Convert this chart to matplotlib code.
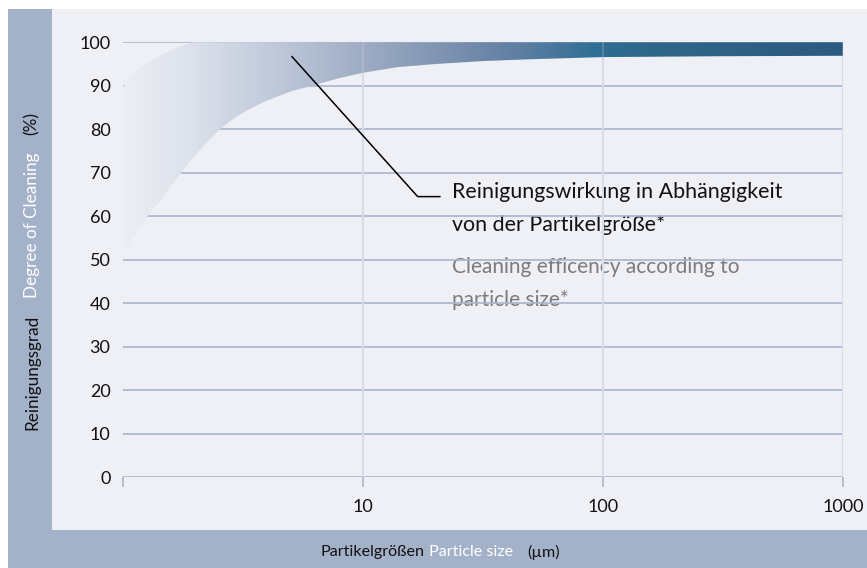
import numpy as np
import matplotlib
matplotlib.use("Agg")
import matplotlib.pyplot as plt
from matplotlib.colors import LinearSegmentedColormap
from matplotlib.patches import Rectangle, Polygon

plt.rcParams['font.family'] = ['Lato', 'DejaVu Sans']

# band edges (particle size in um -> degree of cleaning in %)
lower_x = [1.0, 1.10, 1.20, 1.32, 1.45, 1.58, 1.74, 1.91, 2.09, 2.29, 2.51, 2.82, 3.16,
           3.55, 3.98, 5.0, 6.3, 7.9, 10, 14, 20, 32, 50, 100, 316, 1000]
lower_y = [51.5, 55, 58.3, 61.3, 64.0, 67.0, 69.8, 72.7, 75.2, 77.6, 79.8, 82.0, 83.8,
           85.3, 86.6, 88.7, 90.2, 91.7, 93.0, 94.3, 95.0, 95.7, 96.1, 96.6, 96.8, 96.9]
upper_x = [1.0, 1.03, 1.08, 1.15, 1.22, 1.3, 1.45, 1.6, 1.8, 1.95, 1000]
upper_y = [89.5, 91, 92.4, 93.7, 94.7, 95.6, 97.2, 98.3, 99.4, 100, 100]

y_ticks = [0, 10, 20, 30, 40, 50, 60, 70, 80, 90, 100]
x_ticks = [1, 10, 100, 1000]
x_ticklabels = ['', '10', '100', '1000']

title_de = ['Reinigungswirkung in Abhängigkeit', 'von der Partikelgröße*']
title_en = ['Cleaning efficency according to', 'particle size*']

W, H = 867, 568
panel = '#eff0f5'
side = '#a4b2c9'
grid_h = '#a8b5cb'
grid_v = '#d4dae7'

fig = plt.figure(figsize=(W / 100, H / 100), dpi=100, facecolor='white')

def px(x0, y0, x1, y1):
    # pixel box (top-left origin) -> figure fraction rect
    return (x0 / W, 1 - y1 / H), (x1 - x0) / W, (y1 - y0) / H

for box, col in [((8, 9, 52, H), side), ((8, 530, W, H), side), ((52, 9, W, 530), panel)]:
    xy, w, h = px(*box)
    fig.add_artist(Rectangle(xy, w, h, transform=fig.transFigure, facecolor=col, edgecolor='none', zorder=0))

ax = fig.add_axes([123 / W, (H - 477) / H, 720 / W, 434.7 / H])
ax.set_facecolor('none')
ax.set_xscale('log')
ax.set_xlim(1, 1000)
ax.set_ylim(0, 100)
for s in ax.spines.values():
    s.set_visible(False)

for v in y_ticks:
    ax.axhline(v, color=grid_h, lw=1.2, zorder=1)
for v in x_ticks[1:]:
    ax.axvline(v, ymin=0, ymax=1, color=grid_v, lw=1.5, zorder=1)
    ax.axvline(v, ymin=0, ymax=1, color='#dfe4ee', lw=1.2, alpha=0.25, zorder=2.5)

ax.set_yticks(y_ticks)
ax.set_xticks(x_ticks)
ax.set_xticklabels(x_ticklabels)
ax.xaxis.set_minor_locator(matplotlib.ticker.NullLocator())
ax.tick_params(axis='y', length=0, pad=9, labelsize=13, labelcolor='#111111')
ax.tick_params(axis='x', direction='out', length=7, width=1.2, color=grid_h, pad=9,
               labelsize=13, labelcolor='#111111')

# gradient band
stops = [(0.0, '#eceef4'), (0.093, '#dce1eb'), (0.176, '#c8d0df'), (0.246, '#b6c1d4'),
         (0.357, '#97a7c0'), (0.454, '#7c91af'), (0.551, '#5e7ea2'), (0.656, '#2e6f93'),
         (0.732, '#2f6788'), (1.0, '#2d5a80')]
cmap = LinearSegmentedColormap.from_list('band', stops)
grad = np.linspace(0, 1, 512).reshape(1, -1)
img = ax.imshow(grad, cmap=cmap, extent=[0, 1, 0, 1.006], transform=ax.transAxes,
                aspect='auto', zorder=2, interpolation='bilinear')
pts = list(zip(upper_x, upper_y)) + list(zip(lower_x[::-1], lower_y[::-1]))
poly = Polygon(pts, closed=True, transform=ax.transData, facecolor='none', edgecolor='none')
ax.add_patch(poly)
img.set_clip_path(poly)

# leader line
ax.plot([5.06, 16.9, 20.9], [96.7, 64.5, 64.5], color='black', lw=1.1, zorder=3)

for i, t in enumerate(title_de):
    ax.text(23.5, 65.6 - i * 7.6, t, fontsize=15.4, color='#111111', va='center', ha='left', zorder=0.5)
for i, t in enumerate(title_en):
    ax.text(23.5, 48.4 - i * 7.6, t, fontsize=15, color='#7b7b7b', va='center', ha='left', zorder=0.5)

# axis titles in parts
fig.canvas.draw()
r = fig.canvas.get_renderer()

def row(parts, x, y, rot=0, size=12):
    for text, col, gap in parts:
        t = fig.text(x / W, 1 - y / H, text, color=col, fontsize=size, rotation=rot,
                     ha='left' if rot == 0 else 'center',
                     va='center' if rot == 0 else 'bottom', zorder=5)
        bb = t.get_window_extent(r)
        if rot == 0:
            x += bb.width + gap
        else:
            y -= bb.height + gap

row([('Partikelgrößen', '#111111', 5), ('Particle size', 'white', 14), ('(µm)', '#111111', 0)], 320, 552, size=11.6)
row([('Reinigungsgrad', '#111111', 17), ('Degree of Cleaning', 'white', 17), ('(%)', '#111111', 0)], 32, 430, rot=90, size=12.3)

fig.savefig('out.png', dpi=100, facecolor='white')
